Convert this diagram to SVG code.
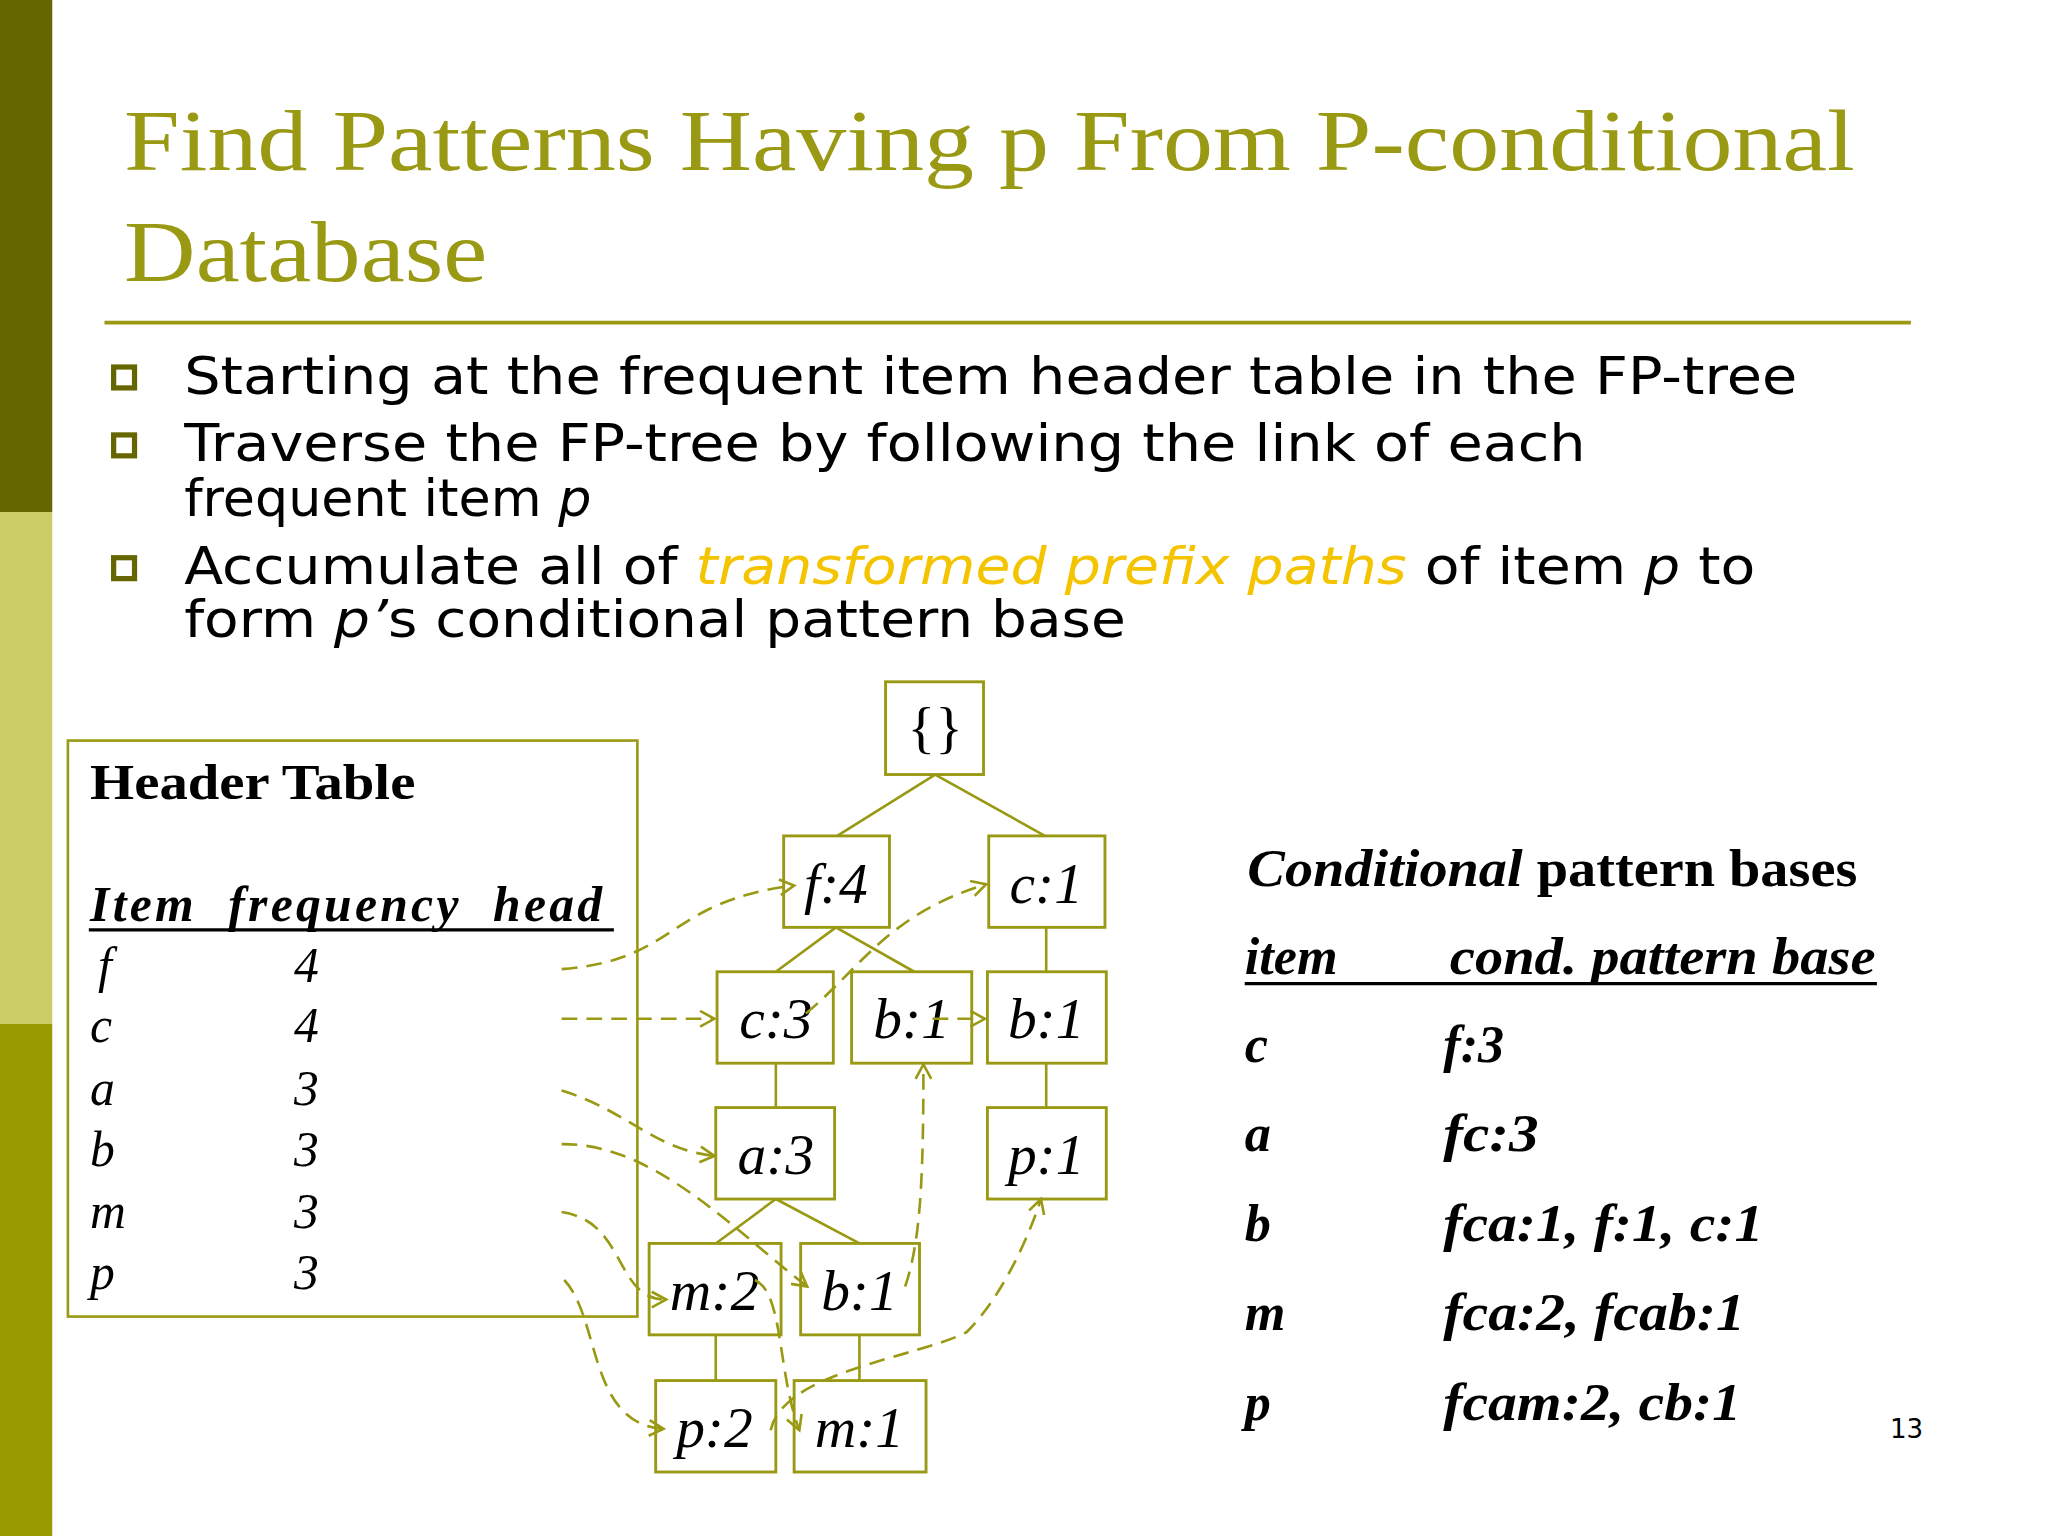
<svg xmlns="http://www.w3.org/2000/svg" width="2048" height="1536" viewBox="0 0 2048 1536">
<style>
.t{font-family:"Liberation Serif",serif;fill:#999913}
.b{font-family:"DejaVu Sans",sans-serif;font-size:40px;fill:#000}
.s{font-family:"Liberation Serif",serif;font-size:38px;fill:#000}
.n rect{fill:#fff;stroke:#999913;stroke-width:2.2}
.n text{font-family:"Liberation Serif",serif;font-style:italic;font-size:44px;fill:#000;text-anchor:middle}
.n text.r{font-style:normal}
.e line{stroke:#999913;stroke-width:2}
.d path{fill:none;stroke:#999913;stroke-width:2;stroke-dasharray:12 7}
</style>
<defs><marker id="a" markerWidth="14" markerHeight="14" refX="12" refY="7" orient="auto" markerUnits="userSpaceOnUse"><path d="M1,1 L12,7 L1,13" fill="none" stroke="#999913" stroke-width="2"/></marker></defs>
<rect width="2048" height="1536" fill="#fff"/>
<g transform="scale(1.30612)">
<rect x="0" y="0" width="40" height="392" fill="#666600"/>
<rect x="0" y="392" width="40" height="392" fill="#cccc66"/>
<rect x="0" y="784" width="40" height="392" fill="#999900"/>
<text class="t" x="95" y="130" font-size="66" textLength="1325" lengthAdjust="spacingAndGlyphs">Find Patterns Having p From P-conditional</text>
<text class="t" x="95" y="215" font-size="66" textLength="278" lengthAdjust="spacingAndGlyphs">Database</text>
<line x1="80" y1="247" x2="1463" y2="247" stroke="#999913" stroke-width="3"/>
<g fill="none" stroke="#666600" stroke-width="4">
<rect x="87" y="281" width="16" height="16"/><rect x="87" y="333" width="16" height="16"/><rect x="87" y="427" width="16" height="16"/></g>
<text class="b" x="141" y="302" textLength="1235" lengthAdjust="spacingAndGlyphs">Starting at the frequent item header table in the FP-tree</text>
<text class="b" x="141" y="353" textLength="1073" lengthAdjust="spacingAndGlyphs">Traverse the FP-tree by following the link of each</text>
<text class="b" x="141" y="395">frequent item <tspan font-style="italic">p</tspan></text>
<text class="b" x="141" y="447" textLength="1203" lengthAdjust="spacingAndGlyphs">Accumulate all of <tspan font-style="italic" fill="#f5c400">transformed prefix paths</tspan> of item <tspan font-style="italic">p</tspan> to</text>
<text class="b" x="141" y="488" textLength="721" lengthAdjust="spacingAndGlyphs">form <tspan font-style="italic">p’</tspan>s conditional pattern base</text>

<g id="header">
<rect x="52" y="567" width="436" height="441" fill="none" stroke="#999913" stroke-width="2"/>
<text class="s" x="69" y="612" font-weight="bold" textLength="249" lengthAdjust="spacingAndGlyphs">Header Table</text>
<text class="s" x="69" y="705" font-weight="bold" font-style="italic" xml:space="preserve" textLength="392" lengthAdjust="spacing">Item  frequency  head</text>
<line x1="68" y1="712" x2="470" y2="712" stroke="#000" stroke-width="2.5"/>
<g font-style="italic">
<text class="s" x="75" y="752">f</text><text class="s" x="225" y="752">4</text>
<text class="s" x="69" y="798">c</text><text class="s" x="225" y="798">4</text>
<text class="s" x="69" y="846">a</text><text class="s" x="225" y="846">3</text>
<text class="s" x="69" y="893">b</text><text class="s" x="225" y="893">3</text>
<text class="s" x="69" y="940">m</text><text class="s" x="225" y="940">3</text>
<text class="s" x="69" y="987">p</text><text class="s" x="225" y="987">3</text>
</g></g>

<g id="edges" class="e">
<line x1="716" y1="593" x2="641" y2="640"/><line x1="716" y1="593" x2="800" y2="640"/>
<line x1="640" y1="710" x2="594" y2="744"/><line x1="640" y1="710" x2="700" y2="744"/>
<line x1="801" y1="710" x2="801" y2="744"/><line x1="594" y1="814" x2="594" y2="848"/>
<line x1="801" y1="814" x2="801" y2="848"/>
<line x1="594" y1="918" x2="548" y2="952"/><line x1="594" y1="918" x2="658" y2="952"/>
<line x1="548" y1="1022" x2="548" y2="1057"/><line x1="658" y1="1022" x2="658" y2="1057"/>
</g>

<g id="root" class="n"><rect x="678" y="522" width="75" height="71"/><text class="r" x="716" y="572">{}</text></g>
<g id="f4" class="n"><rect x="600" y="640" width="81" height="70"/><text x="640" y="691">f:4</text></g>
<g id="c1" class="n"><rect x="757" y="640" width="89" height="70"/><text x="801" y="691">c:1</text></g>
<g id="c3" class="n"><rect x="549" y="744" width="89" height="70"/><text x="594" y="795">c:3</text></g>
<g id="b1a" class="n"><rect x="652" y="744" width="92" height="70"/><text x="698" y="795">b:1</text></g>
<g id="b1b" class="n"><rect x="756" y="744" width="91" height="70"/><text x="801" y="795">b:1</text></g>
<g id="a3" class="n"><rect x="548" y="848" width="91" height="70"/><text x="594" y="899">a:3</text></g>
<g id="p1" class="n"><rect x="756" y="848" width="91" height="70"/><text x="801" y="899">p:1</text></g>
<g id="m2" class="n"><rect x="497" y="952" width="101" height="70"/><text x="547" y="1003">m:2</text></g>
<g id="b1c" class="n"><rect x="613" y="952" width="91" height="70"/><text x="658" y="1003">b:1</text></g>
<g id="p2" class="n"><rect x="502" y="1057" width="92" height="70"/><text x="547" y="1108">p:2</text></g>
<g id="m1" class="n"><rect x="608" y="1057" width="101" height="70"/><text x="658" y="1108">m:1</text></g>

<g id="links" class="d">
<path d="M430,742 C520,735 510,690 608,678" marker-end="url(#a)"/>
<path d="M430,780 L547,780" marker-end="url(#a)"/>
<path d="M617,776 C660,740 680,700 755,677" marker-end="url(#a)"/>
<path d="M714,780 L754,780" marker-end="url(#a)"/>
<path d="M430,835 C480,850 500,880 547,885" marker-end="url(#a)"/>
<path d="M430,876 C500,875 560,940 618,985" marker-end="url(#a)"/>
<path d="M693,985 C705,950 707,900 707,815" marker-end="url(#a)"/>
<path d="M430,928 C480,935 470,995 510,995" marker-end="url(#a)"/>
<path d="M578,980 C600,990 595,1050 612,1095" marker-end="url(#a)"/>
<path d="M432,980 C460,1010 450,1090 508,1094" marker-end="url(#a)"/>
<path d="M590,1095 C600,1050 700,1040 740,1020 C770,990 790,940 797,918" marker-end="url(#a)"/>
</g>

<g id="cond" font-family="Liberation Serif,serif" font-size="40" font-weight="bold" fill="#000">
<text x="955" y="678" textLength="467" lengthAdjust="spacingAndGlyphs"><tspan font-style="italic">Conditional</tspan> pattern bases</text>
<g font-style="italic">
<text x="953" y="746">item</text>
<text x="1110" y="746" textLength="326" lengthAdjust="spacingAndGlyphs">cond. pattern base</text>
<line x1="953" y1="753" x2="1437" y2="753" stroke="#000" stroke-width="2.5"/>
<text x="953" y="813">c</text><text x="1105" y="813">f:3</text>
<text x="953" y="881">a</text><text x="1105" y="881" textLength="73" lengthAdjust="spacingAndGlyphs">fc:3</text>
<text x="953" y="950">b</text><text x="1105" y="950" textLength="245" lengthAdjust="spacingAndGlyphs">fca:1, f:1, c:1</text>
<text x="953" y="1018">m</text><text x="1105" y="1018" textLength="231" lengthAdjust="spacingAndGlyphs">fca:2, fcab:1</text>
<text x="953" y="1087">p</text><text x="1105" y="1087" textLength="228" lengthAdjust="spacingAndGlyphs">fcam:2, cb:1</text>
</g></g>
<text x="1447" y="1101" font-family="DejaVu Sans,sans-serif" font-size="20" fill="#000">13</text>
</g>
</svg>
